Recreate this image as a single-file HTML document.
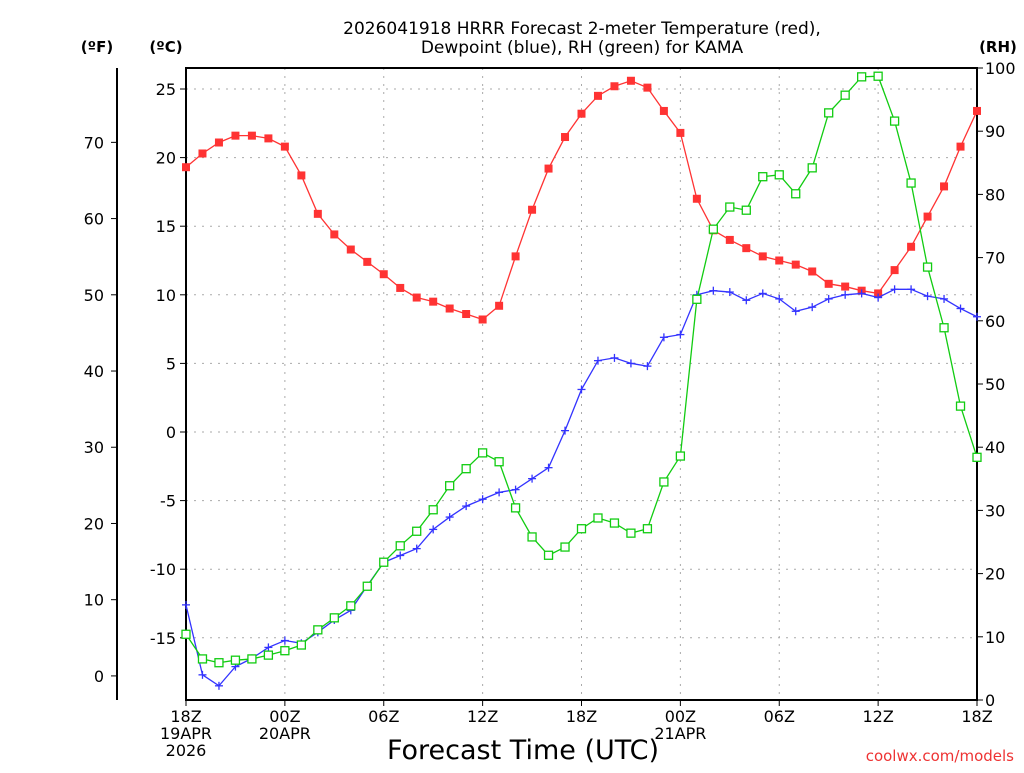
<!DOCTYPE html>
<html><head><meta charset="utf-8"><style>
body{margin:0;background:#fff;}
svg text{font-family:"DejaVu Sans","Liberation Sans",sans-serif;}
</style></head><body>
<svg id="c" width="1024" height="768" xmlns="http://www.w3.org/2000/svg"></svg>
<script>
const hours = Array.from({length:49},(_,i)=>i);
const tempC = [19.3,20.3,21.1,21.6,21.6,21.4,20.8,18.7,15.9,14.4,13.3,12.4,11.5,10.5,9.8,9.5,9.0,8.6,8.2,9.2,12.8,16.2,19.2,21.5,23.2,24.5,25.2,25.6,25.1,23.4,21.8,17.0,14.7,14.0,13.4,12.8,12.5,12.2,11.7,10.8,10.6,10.3,10.1,11.8,13.5,15.7,17.9,20.8,23.4];
const dewC = [-12.6,-17.7,-18.5,-17.1,-16.5,-15.7,-15.2,-15.4,-14.6,-13.7,-13.0,-11.2,-9.5,-9.0,-8.5,-7.1,-6.2,-5.4,-4.9,-4.4,-4.2,-3.4,-2.6,0.1,3.1,5.2,5.4,5.0,4.8,6.9,7.1,10.0,10.3,10.2,9.6,10.1,9.7,8.8,9.1,9.7,10.0,10.1,9.8,10.4,10.4,9.9,9.7,9.0,8.4];
const rh = [10.4,6.5,5.9,6.3,6.5,7.1,7.8,8.7,11.1,13.0,14.9,18.0,21.8,24.4,26.7,30.1,33.9,36.6,39.1,37.7,30.4,25.8,22.9,24.2,27.1,28.8,28.0,26.4,27.1,34.5,38.6,63.4,74.5,78.0,77.5,82.8,83.1,80.1,84.2,92.9,95.7,98.6,98.7,91.6,81.8,68.5,58.9,46.5,38.4];
const cTicks = [25,20,15,10,5,0,-5,-10,-15];
const fTicks = [70,60,50,40,30,20,10,0];
const rhTicks = [0,10,20,30,40,50,60,70,80,90,100];
const xTickHours = [0,6,12,18,24,30,36,42,48];
const xTickLabels = [["18Z","19APR","2026"],["00Z","20APR"],["06Z"],["12Z"],["18Z"],["00Z","21APR"],["06Z"],["12Z"],["18Z"]];

const L=186,R=977,T=68,B=700;
const X=h=>L+(R-L)*h/48;
const YC=c=>432-c*13.72;
const YF=f=>YC((f-32)*5/9);
const YR=r=>B-(B-T)*r/100;
const svg=document.getElementById('c');
const NS='http://www.w3.org/2000/svg';
function mk(tag,attrs,parent){const e=document.createElementNS(NS,tag);for(const k in attrs)e.setAttribute(k,attrs[k]);(parent||svg).appendChild(e);return e;}
function txt(s,x,y,anchor,size,fill,name){const t=mk('text',{x:x,y:y,'text-anchor':anchor,'font-size':size,fill:fill||'#000'});t.textContent=s;


return t;}

// grid
const grid=mk('g',{});


cTicks.forEach(c=>{mk('line',{x1:L,x2:R,y1:YC(c),y2:YC(c),stroke:'#aaa','stroke-width':1,'stroke-dasharray':'2,6'},grid);});
xTickHours.slice(1,-1).forEach(h=>{mk('line',{x1:X(h),x2:X(h),y1:T,y2:B,stroke:'#aaa','stroke-width':1,'stroke-dasharray':'2,6'},grid);});

// frame
const fr=mk('rect',{x:L,y:T,width:R-L,height:B-T,fill:'none',stroke:'#000','stroke-width':2});


// F axis
const fa=mk('line',{x1:117,x2:117,y1:68,y2:700,stroke:'#000','stroke-width':2});


fTicks.forEach(f=>{mk('line',{x1:111,x2:117,y1:YF(f),y2:YF(f),stroke:'#000'});txt(String(f),104,YF(f)+6,'end',16,'#000','f-tick-label');});
cTicks.forEach(c=>{mk('line',{x1:L-6,x2:L,y1:YC(c),y2:YC(c),stroke:'#000'});txt(String(c),176,YC(c)+6,'end',16,'#000','c-tick-label');});
rhTicks.forEach(r=>{mk('line',{x1:R,x2:R+6,y1:YR(r),y2:YR(r),stroke:'#000'});txt(String(r),985,YR(r)+6,'start',16,'#000','rh-tick-label');});
xTickHours.forEach((h,i)=>{mk('line',{x1:X(h),x2:X(h),y1:B,y2:B+6,stroke:'#000'});xTickLabels[i].forEach((s,j)=>txt(s,X(h),B+22+j*17,'middle',16,'#000','x-tick-label'));});

txt('(ºF)',97,52,'middle',15,'#000','fahrenheit-unit').setAttribute('font-weight','bold');
txt('(ºC)',166,52,'middle',15,'#000','celsius-unit').setAttribute('font-weight','bold');
txt('(RH)',998,52,'middle',15,'#000','rh-unit').setAttribute('font-weight','bold');
txt('2026041918 HRRR Forecast 2-meter Temperature (red),',582,34,'middle',17,'#000','chart-title');
txt('Dewpoint (blue), RH (green) for KAMA',582,53,'middle',17,'#000','chart-subtitle');
txt('Forecast Time (UTC)',523,759,'middle',27,'#000','x-axis-title');
txt('coolwx.com/models',1014,761,'end',15,'#e33','credit');

function series(vals,yf,color,name,marker){
  const g=mk('g',{});
  
  
  mk('polyline',{points:vals.map((v,i)=>X(hours[i])+','+yf(v)).join(' '),fill:'none',stroke:color,'stroke-width':1.3},g);
  vals.forEach((v,i)=>{const x=X(hours[i]),y=yf(v);
    if(marker==='sq')mk('rect',{x:x-4,y:y-4,width:8,height:8,fill:color},g);
    else if(marker==='open')mk('rect',{x:x-4,y:y-4,width:8,height:8,fill:'#fff',stroke:color,'stroke-width':1.3},g);
    else{mk('line',{x1:x-4,x2:x+4,y1:y,y2:y,stroke:color,'stroke-width':1.3},g);mk('line',{x1:x,x2:x,y1:y-4,y2:y+4,stroke:color,'stroke-width':1.3},g);}
  });
}
series(tempC,YC,'#f33','temperature-series','sq');
series(dewC,YC,'#33f','dewpoint-series','plus');
series(rh,YR,'#1c1','rh-series','open');
</script>
</body></html>
